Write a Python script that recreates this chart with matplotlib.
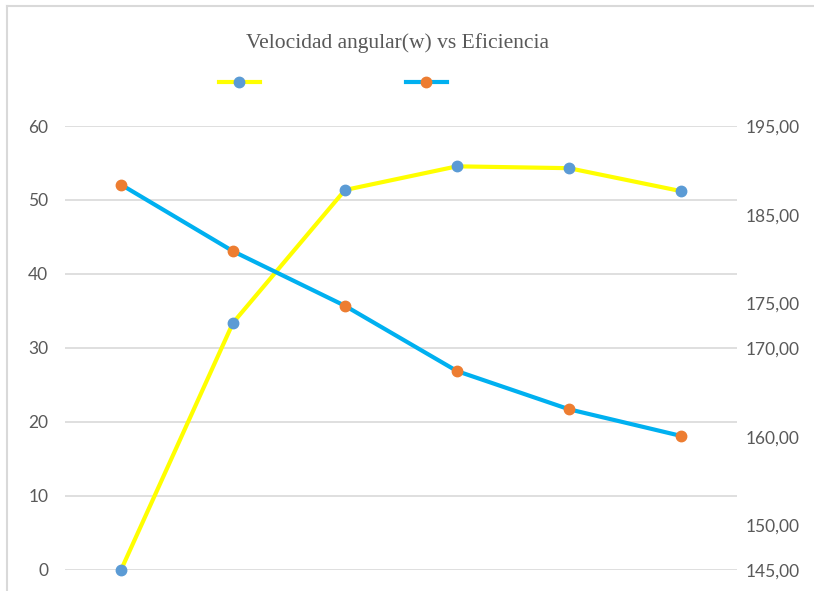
import matplotlib.pyplot as plt
from matplotlib.lines import Line2D

# velocidad angular points (no category labels shown on the axis)
puntos = [1, 2, 3, 4, 5, 6]
eficiencia = [0, 33.4, 51.35, 54.55, 54.3, 51.2]
velocidad = [188.4, 180.9, 174.75, 167.4, 163.1, 160.1]

left_ticks = [0, 10, 20, 30, 40, 50, 60]
right_ticks = [145, 150, 160, 170, 175, 185, 195]
right_labels = ["145,00", "150,00", "160,00", "170,00", "175,00", "185,00", "195,00"]

grey = "#595959"
fig = plt.figure(figsize=(8.14, 5.91), dpi=100)

# chart border (only top and left edges fall inside the image)
bx, by = 7 / 814, 1 - 6 / 591
fig.add_artist(Line2D([bx, 1.0], [by, by], transform=fig.transFigure, color="#d9d9d9", lw=1.5))
fig.add_artist(Line2D([bx, bx], [0.0, by], transform=fig.transFigure, color="#d9d9d9", lw=1.5))

ax = fig.add_axes([65 / 814, 21 / 591, 672 / 814, 444 / 591])
ax2 = ax.twinx()

x = range(len(puntos))
ax.plot(x, eficiencia, color="#FFFF00", lw=3, marker="o", ms=7.5,
        mfc="#5B9BD5", mec="#5B9BD5", zorder=3, clip_on=False)
ax2.plot(x, velocidad, color="#00B0F0", lw=3, marker="o", ms=7.5,
         mfc="#ED7D31", mec="#ED7D31", zorder=3, clip_on=False)

ax.set_xlim(-0.5, len(puntos) - 0.5)
ax.set_ylim(0, 60)
ax.set_yticks(left_ticks)
ax.set_xticks([])
ax.grid(axis="y", color="#d9d9d9", lw=1.2)
ax.set_axisbelow(True)

ax2.set_ylim(145, 195)
ax2.set_yticks(right_ticks)
ax2.set_yticklabels(right_labels)

for a in (ax, ax2):
    for s in a.spines.values():
        s.set_visible(False)
    a.tick_params(length=0, labelsize=12.5, labelcolor=grey, labelfontfamily="Lato")
ax.tick_params(pad=12)
ax2.tick_params(pad=6)

fig.text(397 / 814, 1 - 43 / 591, "Velocidad angular(w) vs Eficiencia", ha="center", va="center",
         fontsize=15.5, color=grey, family="Liberation Serif")

handles = [
    Line2D([], [], color="#FFFF00", lw=3, marker="o", ms=7.5, mfc="#5B9BD5", mec="#5B9BD5"),
    Line2D([], [], color="#00B0F0", lw=3, marker="o", ms=7.5, mfc="#ED7D31", mec="#ED7D31"),
]
fig.legend(handles, [" ", " "], ncol=2, frameon=False, loc="center",
           bbox_to_anchor=(337 / 814, 1 - 83 / 591), handlelength=2.45,
           columnspacing=8.25, handletextpad=0.2, fontsize=12)

fig.savefig("out.png", dpi=100)
